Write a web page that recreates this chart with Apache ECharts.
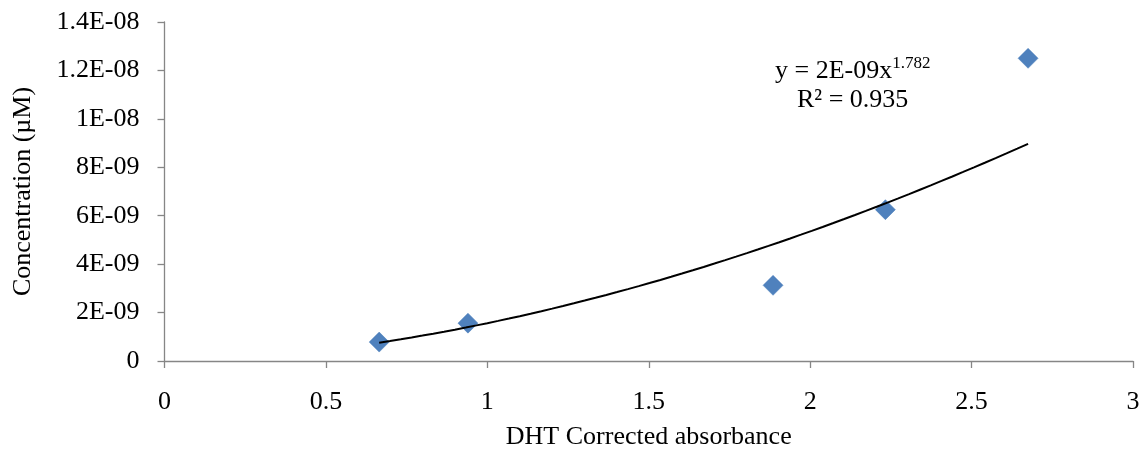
<!DOCTYPE html>
<html>
<head>
<meta charset="utf-8">
<script src="https://cdn.jsdelivr.net/npm/echarts@6/dist/echarts.min.js"></script>
<style>html,body{margin:0;padding:0;background:#fff}#c{width:1140px;height:450px}</style>
</head>
<body>
<div id="c"></div>
<script>
// Data
var absorbance = [0.665, 0.94, 1.885, 2.233, 2.675];
var concentration = [7.8125e-10, 1.5625e-9, 3.125e-9, 6.25e-9, 1.25e-8];
var yTickLabels = ['0', '2E-09', '4E-09', '6E-09', '8E-09', '1E-08', '1.2E-08', '1.4E-08'];
var xTickLabels = ['0', '0.5', '1', '1.5', '2', '2.5', '3'];
var xTitle = 'DHT Corrected absorbance';
var yTitle = 'Concentration (µM)';
var eqText = 'y = 2E-09x';
var eqExp = '1.782';
var r2Text = 'R² = 0.935';

// Power trendline fitted to the data (least squares on logs)
var n = absorbance.length, sx = 0, sy = 0, sxx = 0, sxy = 0;
for (var i = 0; i < n; i++) {
  var lx = Math.log(absorbance[i]), ly = Math.log(concentration[i]);
  sx += lx; sy += ly; sxx += lx * lx; sxy += lx * ly;
}
var b = (n * sxy - sx * sy) / (n * sxx - sx * sx);
var a = Math.exp((sy - b * sx) / n);
var xmin = Math.min.apply(null, absorbance), xmax = Math.max.apply(null, absorbance);
var trend = [];
for (var k = 0; k <= 60; k++) {
  var xv = xmin + (xmax - xmin) * k / 60;
  trend.push([xv, a * Math.pow(xv, b)]);
}

var font = 'Liberation Serif';
var chart = echarts.init(document.getElementById('c'), null, {renderer: 'canvas'});
chart.setOption({
  animation: false,
  backgroundColor: '#ffffff',
  grid: {left: 164.5, right: 7, top: 22, bottom: 89, containLabel: false, outerBoundsMode: 'none'},
  xAxis: {
    type: 'value', min: 0, max: 3, interval: 0.5,
    name: xTitle, nameLocation: 'middle', nameGap: 63,
    nameTextStyle: {fontFamily: font, fontSize: 26, color: '#000'},
    axisLine: {show: true, lineStyle: {color: '#868686', width: 1.3}},
    axisTick: {show: true, inside: false, length: 7, lineStyle: {color: '#868686', width: 1.3}},
    axisLabel: {fontFamily: font, fontSize: 26, color: '#000', margin: 28,
      formatter: function (v) { return xTickLabels[Math.round(v / 0.5)]; }},
    splitLine: {show: false}
  },
  yAxis: {
    type: 'value', min: 0, max: 1.4e-8, interval: 2e-9,
    name: yTitle, nameLocation: 'middle', nameGap: 128, nameRotate: 90,
    nameTextStyle: {fontFamily: font, fontSize: 26, color: '#000'},
    axisLine: {show: true, lineStyle: {color: '#868686', width: 1.3}},
    axisTick: {show: true, inside: false, length: 7, lineStyle: {color: '#868686', width: 1.3}},
    axisLabel: {fontFamily: font, fontSize: 26, color: '#000', margin: 25,
      formatter: function (v) { return yTickLabels[Math.round(v / 2e-9)]; }},
    splitLine: {show: false}
  },
  series: [
    {
      type: 'line', data: trend, showSymbol: false, symbol: 'none', smooth: false,
      lineStyle: {color: '#000', width: 2}, z: 3
    },
    {
      type: 'scatter', data: absorbance.map(function (x, i) { return [x, concentration[i]]; }),
      symbol: 'diamond', symbolSize: [20, 20],
      itemStyle: {color: '#4F81BD', opacity: 1, borderColor: '#4A7EBB', borderWidth: 0.5}, z: 2
    }
  ],
  graphic: [
    {
      type: 'text', left: 775, top: 55,
      style: {
        rich: {
          m: {fontFamily: font, fontSize: 26, fill: '#000', verticalAlign: 'bottom'},
          s: {fontFamily: font, fontSize: 17, fill: '#000', verticalAlign: 'top', padding: [0, 0, 12, 0]}
        },
        text: '{m|' + eqText + '}{s|' + eqExp + '}'
      }
    },
    {
      type: 'text', left: 797, top: 87,
      style: {text: r2Text, fontFamily: font, fontSize: 26, fill: '#000'}
    }
  ]
});
</script>
</body>
</html>
